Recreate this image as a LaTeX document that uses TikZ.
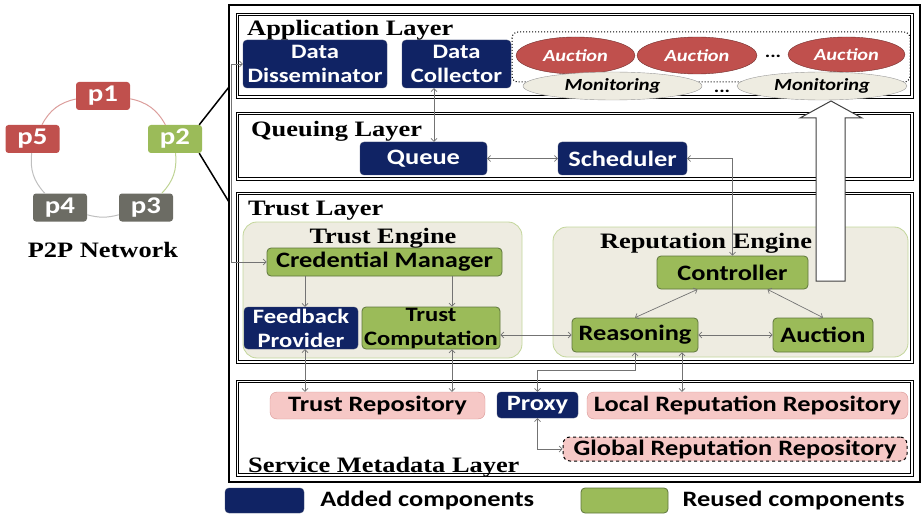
\documentclass[tikz,border=0pt]{standalone}
\usepackage{fontspec}
\usepackage{tikz}
\usetikzlibrary{arrows.meta,positioning,shapes.geometric}
\setmainfont{Liberation Serif}
\newfontfamily\compfont{Carlito}[FakeStretch=1.2]
\newfontfamily\layerfont{Liberation Serif}[FakeStretch=1.2]
\definecolor{addblue}{RGB}{16,35,100}
\definecolor{reusegreen}{RGB}{155,187,89}
\definecolor{greenedge}{RGB}{95,118,60}
\definecolor{peerred}{RGB}{192,80,77}
\definecolor{peergray}{RGB}{108,108,100}
\definecolor{enginefill}{RGB}{238,236,225}
\definecolor{engineedge}{RGB}{195,214,155}
\definecolor{repofill}{RGB}{246,200,198}
\definecolor{repoedge}{RGB}{217,150,148}

\begin{document}
\begin{tikzpicture}[x=1pt,y=-1pt,
    >={Straight Barb[length=3pt,width=6pt]},
    layerbox/.style={draw=black,line width=0.8pt},
    comp/.style={rounded corners=4pt,inner sep=0pt,align=center,
      font=\compfont\bfseries\fontsize{22}{22}\selectfont},
    added/.style={comp,fill=addblue,draw=addblue!60!gray,text=white},
    reused/.style={comp,fill=reusegreen,draw=greenedge,line width=0.8pt},
    repo/.style={comp,fill=repofill,draw=repoedge,rounded corners=7pt},
    twoline/.style={font=\compfont\bfseries\fontsize{20.5}{24}\selectfont},
    oval/.style={ellipse,inner sep=0pt,
      font=\compfont\bfseries\itshape\fontsize{17}{17}\selectfont},
    auction/.style={oval,fill=peerred,draw=peerred!60!black,text=white},
    monitor/.style={oval,fill=enginefill,draw=black!40},
    engine/.style={fill=enginefill,draw=engineedge,line width=0.8pt,rounded corners=14pt},
    peer/.style={rounded corners=3pt,minimum width=54,minimum height=28,text=white,
      font=\compfont\bfseries\fontsize{24}{24}\selectfont},
    conn/.style={draw=black!55,line width=0.7pt},
    title/.style={anchor=base west,inner sep=0pt,
      font=\layerfont\bfseries\fontsize{22}{22}\selectfont}]
  \useasboundingbox (0,0) rectangle (924,516);

  % P2P ring
  \node[peer,fill=peerred]  (p1) at (103,96) {p1};
  \node[peer,fill=reusegreen] (p2) at (175,139) {p2};
  \node[peer,fill=peergray] (p3) at (146,207.5) {p3};
  \node[peer,fill=peergray] (p4) at (60,207.5) {p4};
  \node[peer,fill=peerred]  (p5) at (32.5,139) {p5};
  \draw[peerred!55,line width=1pt] (p1) to[bend left=25] (p2);
  \draw[reusegreen!65,line width=1pt] (p2) to[bend left=25] (p3);
  \draw[black!25,line width=1pt] (p3) to[bend left=15] (p4);
  \draw[black!25,line width=1pt] (p4) to[bend left=25] (p5);
  \draw[peerred!55,line width=1pt] (p5) to[bend left=25] (p1);
  \node[anchor=base,font=\layerfont\bfseries\fontsize{22}{22}\selectfont] (netlabel) at (103,257) {P2P Network};

  % outer frame and layers (double lines)
  \draw[line width=1.2pt] (229,5) rectangle (920,482);
  \foreach \ya/\yb in {13/98,112/180,192/363,380/476} {
    \draw[layerbox] (236,\ya) rectangle (913,\yb);
    \draw[layerbox,line width=0.6pt] (238.5,\ya+2.5) rectangle (910.5,\yb-2.5);
  }
  \coordinate (hookup) at (229,87);
  \coordinate (hookdown) at (229,202);
  \draw[line width=1.5pt] ([xshift=-3pt]p2.north east) -- (hookup);
  \draw[line width=1.5pt] ([xshift=-3pt]p2.south east) -- (hookdown);

  \node[title] (applabel) at (247,36) {Application Layer};
  \node[title] (queuelabel) at (251,137) {Queuing Layer};
  \node[title] (trustlabel) at (248,215) {Trust Layer};
  \node[title] (metalabel) at (248,472) {Service Metadata Layer};

  % engines
  \draw[engine] (243,222) rectangle (522,358);
  \draw[engine] (553,227) rectangle (908,357);
  \node[title,anchor=base] (telabel) at (383,243) {Trust Engine};
  \node[title,anchor=base] (relabel) at (706,248) {Reputation Engine};

  % application layer
  \draw[dotted,line width=1pt,rounded corners=6pt] (512,32) rectangle (910,82);
  \node[auction,minimum width=119,minimum height=37] (auc1) at (575.5,55.5) {Auction};
  \node[auction,minimum width=120,minimum height=37] (auc2) at (697,55.5) {Auction};
  \node[auction,minimum width=117,minimum height=35] (auc3) at (846.5,54.5) {Auction};
  \node[monitor,minimum width=179,minimum height=28] (mon1) at (612.5,86) {Monitoring};
  \node[monitor,minimum width=170,minimum height=28] (mon2) at (822,86) {Monitoring};
  \node[font=\compfont\bfseries\fontsize{17}{17}\selectfont] (dotsauc) at (773,56) {...};
  \node[font=\compfont\bfseries\fontsize{17}{17}\selectfont] (dotsmon) at (722,91) {...};
  \node[added,twoline,minimum width=144,minimum height=48] (DataDis) at (315,64) {Data\\Disseminator};
  \node[added,twoline,minimum width=109,minimum height=48] (DataCol) at (456.5,64) {Data\\Collector};

  % queuing layer
  \node[added,minimum width=127,minimum height=33] (Queue) at (423.5,158.5) {Queue};
  \node[added,minimum width=129,minimum height=33] (Scheduler) at (622.5,158.5) {Scheduler};

  % trust layer
  \node[reused,minimum width=235,minimum height=28] (CredMan) at (384.5,262) {Credential Manager};
  \node[added,twoline,minimum width=114,minimum height=42] (FeedProv) at (301,328) {Feedback\\Provider};
  \node[reused,twoline,minimum width=138,minimum height=42] (TrustComp) at (431,328) {Trust\\Computation};
  \node[reused,minimum width=151,minimum height=33] (Controller) at (732.5,272.5) {Controller};
  \node[reused,minimum width=126,minimum height=34] (Reasoning) at (635,335) {Reasoning};
  \node[reused,minimum width=100,minimum height=34] (AuctionR) at (823,335) {Auction};

  % service metadata layer
  \node[repo,minimum width=215,minimum height=27] (TrustRepo) at (377.5,405.5) {Trust Repository};
  \node[added,minimum width=81,minimum height=26] (Proxy) at (537.5,405) {Proxy};
  \node[repo,minimum width=321,minimum height=27] (LocalRepo) at (747.5,405.5) {Local Reputation Repository};
  \node[repo,draw=black,dashed,line width=1pt,minimum width=344,minimum height=24] (GlobalRepo) at (735,449) {Global Reputation Repository};

  % connectors
  \draw[conn,<->] (DataDis.west) -- ++(-11,0) |- (CredMan.west);
  \draw[conn,<->] ([xshift=-22.5pt]DataCol.south) -- ([xshift=-22.5pt]DataCol.south |- Queue.north);
  \draw[conn,<->] (Queue.east) -- (Scheduler.west);
  \draw[conn,<->] (Scheduler.east) -| (Controller.north);
  \draw[conn,->] ([xshift=4pt]FeedProv.north |- CredMan.south) -- ([xshift=4pt]FeedProv.north);
  \draw[conn,->] ([xshift=21pt]TrustComp.north |- CredMan.south) -- ([xshift=21pt]TrustComp.north);
  \draw[conn,<->] (Reasoning.west -| TrustComp.east) -- (Reasoning.west);
  \draw[conn,<->] ([xshift=-35pt]Controller.south) -- (Reasoning.north);
  \draw[conn,<->] ([xshift=35pt]Controller.south) -- (AuctionR.north);
  \draw[conn,<->] (Reasoning.east) -- (AuctionR.west);
  \draw[conn,<->] ([xshift=4pt]FeedProv.south) -- ([xshift=4pt]FeedProv.south |- TrustRepo.north);
  \draw[conn,<->] ([xshift=21pt]TrustComp.south) -- ([xshift=21pt]TrustComp.south |- TrustRepo.north);
  \draw[conn,<->] (Reasoning.south) -- ++(0,18) -| (Proxy.north);
  \draw[conn,<->] ([xshift=47pt]Reasoning.south) -- ([xshift=47pt]Reasoning.south |- LocalRepo.north);
  \draw[conn,<->] (Proxy.south) |- (GlobalRepo.west);

  % hollow arrow up to the application layer
  \draw[fill=white,draw=black!75,line width=1pt]
    (816,281) -- (816,118) -- (800,118) -- (831,101) -- (862,118) -- (845,118) -- (845,281) -- cycle;

  % legend
  \node[added,minimum width=79,minimum height=25] (keyadd) at (264.5,500.5) {};
  \node[right=16pt of keyadd,inner sep=0pt,font=\compfont\bfseries\fontsize{22}{22}\selectfont] (keyaddtext) {Added components};
  \node[reused,minimum width=87,minimum height=25] (keyreuse) at (624.5,500.5) {};
  \node[right=14pt of keyreuse,inner sep=0pt,font=\compfont\bfseries\fontsize{22}{22}\selectfont] (keyreusetext) {Reused components};
\end{tikzpicture}
\end{document}
